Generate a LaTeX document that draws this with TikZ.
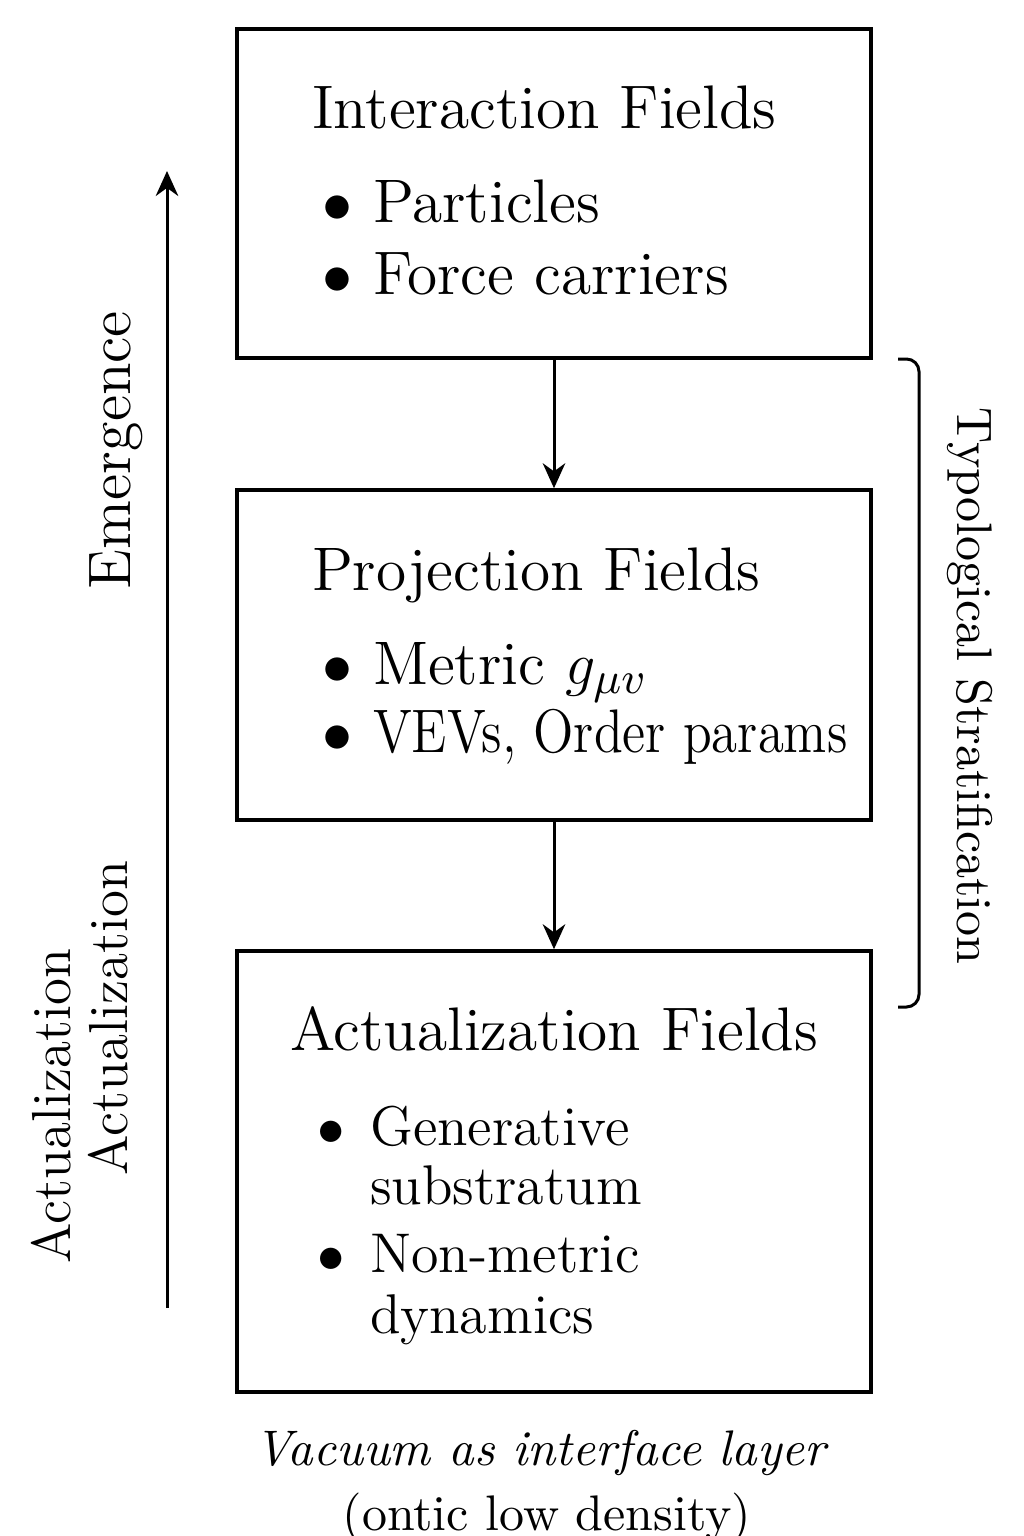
\documentclass[tikz,border=0pt]{standalone}
\usetikzlibrary{arrows.meta}
\usetikzlibrary{positioning}
\newcommand{\FieldFont}{\fontsize{12.3}{14.5}\selectfont}
\newcommand{\SubFont}{\fontsize{11.2}{13.5}\selectfont}
\tikzstyle{field} = [draw=black, line width=0.7pt, minimum width=126.8pt, inner sep=0pt]
\tikzstyle{ftitle} = [inner sep=0pt, anchor=base west, font=\FieldFont]
\tikzstyle{fitem} = [inner sep=0pt, anchor=base west, font=\FieldFont]
\tikzstyle{fbul} = [inner sep=0pt, anchor=base, font=\FieldFont]
\tikzstyle{flow} = [-{Stealth[length=5pt, width=4.5pt]}, line width=0.6pt]

\begin{document}
\begin{tikzpicture}[x=0.2pt, y=-0.2pt, side/.style={inner sep=0pt, anchor=base}]
\useasboundingbox (0,0) rectangle (1024,1536);
%\draw [help lines, step=100] (0,0) grid (1024,1536);

% Define nodes
\node[field, minimum height=65.8pt] (inter) at (554,193.5) {};
\node[field, minimum height=66pt]   (proj)  at (554,655)   {};
\node[field, minimum height=88.2pt] (actu)  at (554,1171.5) {};

\node[ftitle] (tinter) at (311,128)  {Interaction Fields};
\node[ftitle] (tproj)  at (311,590)  {Projection Fields};
\node[ftitle] (tactu)  at (289,1050) {Actualization Fields};

\foreach \x/\y/\n in {338/222/b1, 338/294/b2, 338/684/b3, 338/752/b4}
  \node[fbul] (\n) at (\x,\y) {$\bullet$};
\foreach \x/\y/\n in {331/1145/b5, 331/1272/b6}
  \node[fbul, font=\SubFont] (\n) at (\x,\y) {$\bullet$};

\node[fitem] (part)  at (372,222)  {Particles};
\node[fitem] (force) at (372,294)  {Force carriers};
\node[fitem] (metr)  at (372,684)  {Metric $g_{\mu v}$};
\node[fitem] (vevs)  at (372,752)  {\scalebox{0.86}[1]{VEVs, Order params}};
\node[fitem, font=\SubFont] (gen)   at (369,1145) {Generative};
\node[fitem, font=\SubFont] (subs)  at (369,1204) {substratum};
\node[fitem, font=\SubFont] (nonm)  at (369,1272) {Non-metric};
\node[fitem, font=\SubFont] (dyn)   at (369,1333) {dynamics};

\node[side, rotate=90, font=\fontsize{12}{14}\selectfont] (emerg) at (130,450) {Emergence};
\node[side, rotate=90, font=\fontsize{11}{13}\selectfont] (actA) at (127,1018) {Actualization};
\node[side, rotate=90, font=\fontsize{11}{13}\selectfont] (actB) at (70,1106)  {Actualization};
\node[side, rotate=-90, font=\fontsize{10}{12}\selectfont] (typo) at (957,686) {Typological Stratification};

\node[side, font=\itshape\fontsize{10}{12}\selectfont] (vac)   at (540,1465) {Vacuum as interface layer};
\node[side, font=\fontsize{10}{12}\selectfont]         (ontic) at (547,1530) {(ontic low density)};

\coordinate (elow) at (167,1308);
\coordinate (etop) at (167,171);
\coordinate (brtop) at (898,359);
\coordinate (brbot) at (898,1007);

% Edges
\draw[flow] (inter) -- (proj);
\draw[flow] (proj) -- (actu);
\draw[flow] (elow) -- (etop);
\draw[line width=0.6pt, rounded corners=2.5pt] (brtop) -- (919,359) -- (919,1007) -- (brbot);
\end{tikzpicture}
\end{document}
